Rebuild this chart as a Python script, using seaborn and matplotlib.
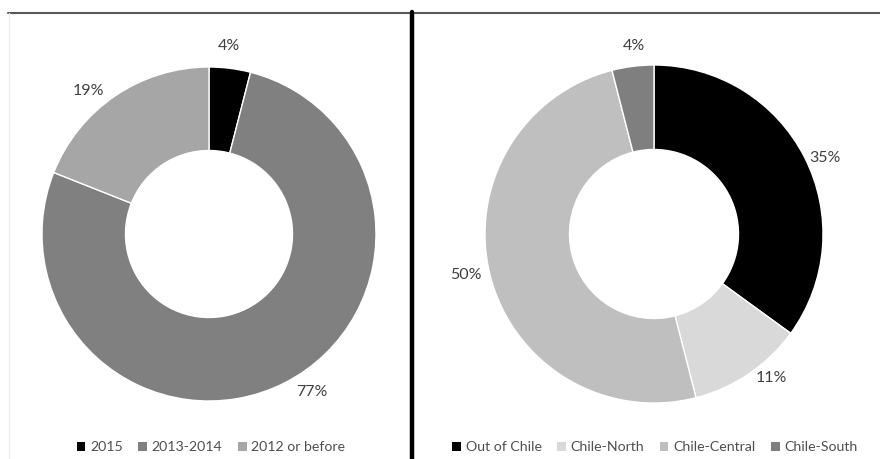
import numpy as np
import matplotlib
matplotlib.use("Agg")
import matplotlib.pyplot as plt
from matplotlib.patches import Patch
from matplotlib.lines import Line2D
import seaborn as sns

sns.set_theme(style="white")
plt.rcParams['font.family'] = ['Lato', 'DejaVu Sans']

# Data
left_categories = ["2015", "2013-2014", "2012 or before"]
left_values = [4, 77, 19]
right_categories = ["Out of Chile", "Chile-North", "Chile-Central", "Chile-South"]
right_values = [35, 11, 50, 4]

# Styles
left_colors = ["#000000", "#808080", "#a6a6a6"]
right_colors = ["#000000", "#d9d9d9", "#bfbfbf", "#7f7f7f"]
text_color = "#404040"
legend_color = "#505050"

# label placement tweaks (angle offset in degrees, radius factor)
left_label_adj = [(-1, 1.13), (-6, 1.13), (-6, 1.12)]
right_label_adj = [(3, 1.11), (-5, 1.10), (2, 1.14), (1, 1.12)]

W, H = 880, 459
fig = plt.figure(figsize=(W / 100, H / 100), dpi=100)
fig.patch.set_facecolor("white")


def donut(cx, cy, R, values, colors, adj, cats, legend_cx):
    ax = fig.add_axes([(cx - R) / W, (H - cy - R) / H, 2 * R / W, 2 * R / H])
    wedges, _ = ax.pie(values, colors=colors, startangle=90, counterclock=False,
                       radius=1.0, wedgeprops=dict(width=0.5, edgecolor="white", linewidth=1.0))
    ax.set_xlim(-1, 1)
    ax.set_ylim(-1, 1)
    ax.set_aspect("equal")
    ax.axis("off")
    total = float(sum(values))
    cum = 0.0
    for v, (da, rf) in zip(values, adj):
        mid = (cum + v / 2) / total * 360.0
        cum += v
        ang = np.deg2rad(mid + da)
        x = rf * np.sin(ang)
        y = rf * np.cos(ang)
        ax.text(x, y, f"{v}%", ha="center", va="center", fontsize=11.5,
                color=text_color, clip_on=False)
    handles = [Patch(facecolor=c, edgecolor="none") for c in colors]
    fig.legend(handles, cats, loc="center", bbox_to_anchor=(legend_cx / W, 1 - 447 / H),
               ncol=len(cats), frameon=False, fontsize=10.2, handlelength=0.6,
               handleheight=0.6, handletextpad=0.35, columnspacing=1.1,
               labelcolor=legend_color)
    return ax


donut(209, 234, 167, left_values, left_colors, left_label_adj, left_categories, 211)
donut(654, 234, 169, right_values, right_colors, right_label_adj, right_categories, 655)

# frame lines
fig.add_artist(Line2D([8 / W, 1.0], [1 - 12.5 / H, 1 - 12.5 / H], color="#595959", lw=1.5))
fig.add_artist(Line2D([8.5 / W, 8.5 / W], [0, 1 - 13 / H], color="#eeeeee", lw=1.0))
fig.add_artist(Line2D([411.5 / W, 411.5 / W], [0, 1 - 12 / H], color="#000000", lw=3.2))

fig.savefig("out.png", dpi=100, facecolor="white")
